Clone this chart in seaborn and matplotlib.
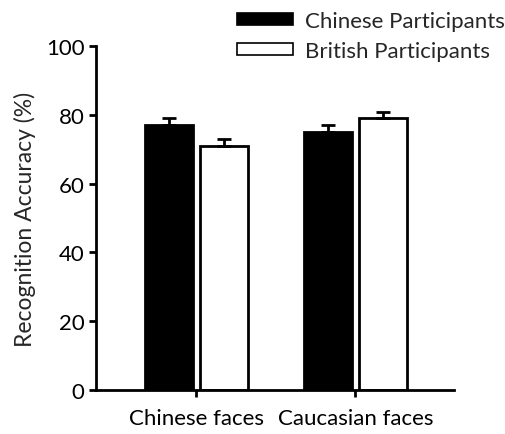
import matplotlib
matplotlib.use("Agg")
import matplotlib.pyplot as plt
import seaborn as sns
import pandas as pd
import numpy as np
from matplotlib.patches import Patch

face_types = ["Chinese faces", "Caucasian faces"]
groups = ["Chinese Participants", "British Participants"]
chinese_acc = [77.0, 75.0]
british_acc = [71.0, 79.0]
chinese_err = [2.1, 2.1]
british_err = [2.1, 1.8]

df = pd.DataFrame({
    "faces": face_types * 2,
    "group": [groups[0]] * 2 + [groups[1]] * 2,
    "accuracy": chinese_acc + british_acc,
    "err": chinese_err + british_err,
})

sns.set_style("ticks")
plt.rcParams["font.family"] = ["Lato", "DejaVu Sans"]

fig = plt.figure(figsize=(5.06, 4.35), dpi=100)
ax = fig.add_axes([0.19, 0.101, 0.707, 0.791])

palette = {groups[0]: "black", groups[1]: "white"}
sns.barplot(data=df, x="faces", y="accuracy", hue="group", order=face_types,
            hue_order=groups, palette=palette, edgecolor="black", linewidth=2,
            width=0.69, gap=0.12, errorbar=None, legend=False, ax=ax)

# one-sided (upper) error bars at the centre of each bar
for patch, (_, row) in zip(ax.patches, df.iterrows()):
    cx = patch.get_x() + patch.get_width() / 2
    ax.errorbar(cx, patch.get_height(), yerr=[[0], [row["err"]]], fmt="none",
                ecolor="black", elinewidth=2, capsize=5, capthick=2)

ax.set_ylim(0, 100)
ax.set_xlim(-0.63, 1.62)
ax.set_yticks([0, 20, 40, 60, 80, 100])
ax.set_ylabel("Recognition Accuracy (%)", fontsize=16.5, labelpad=7)
ax.set_xlabel("")
ax.tick_params(axis="both", labelsize=16, width=2, length=5, colors="black")
ax.tick_params(axis="x", pad=8)
for s in ["top", "right"]:
    ax.spines[s].set_visible(False)
for s in ["left", "bottom"]:
    ax.spines[s].set_linewidth(2)
    ax.spines[s].set_color("black")

handles = [Patch(facecolor="black", edgecolor="black", linewidth=1.2),
           Patch(facecolor="white", edgecolor="black", linewidth=1.2)]
fig.legend(handles, groups, loc="upper left", bbox_to_anchor=(0.438, 1.008),
           frameon=False, fontsize=16, handlelength=2.5, handleheight=0.45,
           handletextpad=0.55, labelspacing=0.45, borderaxespad=0.3)

fig.savefig("out.png", dpi=100)
